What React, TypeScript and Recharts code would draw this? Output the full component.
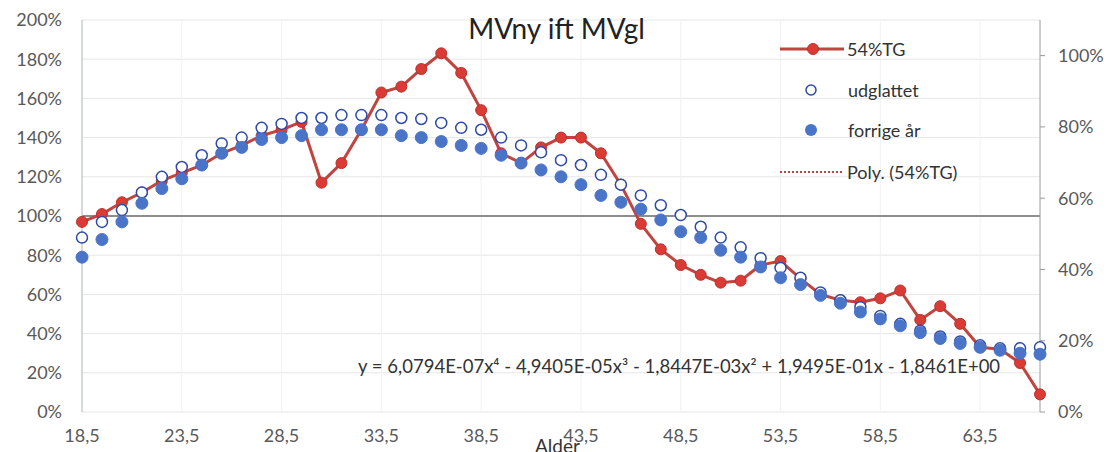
import { ComposedChart, Line, XAxis, YAxis, CartesianGrid, ReferenceLine } from 'recharts'

document.body.style.margin = '0'

const ages = [
  '18,5', '19,5', '20,5', '21,5', '22,5', '23,5', '24,5', '25,5', '26,5', '27,5',
  '28,5', '29,5', '30,5', '31,5', '32,5', '33,5', '34,5', '35,5', '36,5', '37,5',
  '38,5', '39,5', '40,5', '41,5', '42,5', '43,5', '44,5', '45,5', '46,5', '47,5',
  '48,5', '49,5', '50,5', '51,5', '52,5', '53,5', '54,5', '55,5', '56,5', '57,5',
  '58,5', '59,5', '60,5', '61,5', '62,5', '63,5', '64,5', '65,5', '66,5',
]

// 54%TG
const tg54 = [
  97, 101, 107, 112, 118, 122, 126, 132, 136, 141,
  144, 148, 117, 127, 144, 163, 166, 175, 183, 173,
  154, 132, 127, 135, 140, 140, 132, 116, 96, 83,
  75, 70, 66, 67, 75, 77, 68, 60, 57, 56,
  58, 62, 47, 54, 45, 33, 32, 25, 9,
]

const udglattet = [
  89, 97, 103, 112, 120, 125, 131, 137, 140, 145,
  147, 150, 150, 151.5, 151.5, 151.5, 150, 149.5, 147.5, 145,
  144, 140, 136, 132.5, 128.5, 126, 121, 116, 110.5, 105.5,
  100.5, 94.5, 89, 84, 78.5, 73.5, 68.5, 61, 57, 53.5,
  49, 45, 41.5, 38.5, 36, 34, 32.5, 32.5, 33,
]

const forrigeAar = [
  79, 88, 97, 106.5, 114, 119, 126, 132, 135, 139,
  140, 141, 144, 144, 144, 144, 141, 140, 138, 136,
  134.5, 131, 127, 123.5, 120, 116, 110.5, 107, 103.5, 98,
  92, 89, 82.5, 79, 74, 68.5, 65, 59.5, 55.5, 51,
  47.5, 44, 40.5, 37.5, 35, 33, 31.5, 30, 29.5,
]

const leftTicks = [0, 20, 40, 60, 80, 100, 120, 140, 160, 180, 200]
const rightTicks = [0, 20, 40, 60, 80, 100]
const gridAges = ['23,5', '28,5', '33,5', '38,5', '43,5', '48,5', '53,5', '58,5', '63,5']

const title = 'MVny ift MVgl'
const xTitle = 'Alder'
const equation = 'y = 6,0794E-07x⁴ - 4,9405E-05x³ - 1,8447E-03x² + 1,9495E-01x - 1,8461E+00'

const data = ages.map((age, i) => ({
  age,
  tg54: tg54[i],
  udglattet: udglattet[i],
  forrige: forrigeAar[i],
}))

const FONT = 'Lato, "Open Sans", sans-serif'
const TICK = { fill: '#595959', fontSize: 18, fontFamily: FONT }
const RED = '#c0443f'
const RED_DOT = '#dc3a35'
const BLUE = '#4a74c8'
const NAVY = '#2c4aa8'

const pct = (v: number) => `${v}%`

export default function App() {
  return (
    <div style={{ position: 'relative', width: 1109, height: 452, background: '#fff', fontFamily: FONT }}>
      <ComposedChart width={1109} height={452} data={data} margin={{ top: 20, right: 0, bottom: 0, left: 0 }}>
        <CartesianGrid yAxisId="left" vertical={false} stroke="#e6e6e6" />
        {gridAges.map((a) => (
          <ReferenceLine key={a} x={a} yAxisId="left" stroke="#f1f1f1" />
        ))}
        <XAxis
          dataKey="age"
          scale="point"
          interval={4}
          height={40}
          tick={TICK}
          tickLine={false}
          axisLine={false}
          tickMargin={11}
        />
        <YAxis
          yAxisId="left"
          domain={[0, 200]}
          ticks={leftTicks}
          tickFormatter={pct}
          width={82}
          tick={TICK}
          tickLine={false}
          axisLine={{ stroke: '#a9b4c6' }}
          tickMargin={14}
        />
        <YAxis
          yAxisId="right"
          orientation="right"
          domain={[0, 110]}
          allowDataOverflow
          ticks={rightTicks}
          tickFormatter={pct}
          width={69}
          tick={TICK}
          tickSize={5}
          tickLine={{ stroke: '#9a9a9a' }}
          axisLine={{ stroke: '#9a9a9a' }}
          tickMargin={13}
        />
        <ReferenceLine y={100} yAxisId="left" stroke="#6b6b6b" strokeWidth={1.5} />
        {/* keeps the secondary axis alive, draws nothing */}
        <Line yAxisId="right" dataKey="tg54" stroke="none" dot={false} activeDot={false} isAnimationActive={false} />
        <Line
          yAxisId="left"
          dataKey="tg54"
          stroke={RED}
          strokeWidth={3}
          dot={{ r: 5.5, fill: RED_DOT, stroke: '#b8322d', strokeWidth: 1 }}
          isAnimationActive={false}
        />
        <Line
          yAxisId="left"
          dataKey="udglattet"
          stroke="none"
          dot={{ r: 5.5, fill: '#fff', stroke: NAVY, strokeWidth: 1.5 }}
          isAnimationActive={false}
        />
        <Line
          yAxisId="left"
          dataKey="forrige"
          stroke="none"
          dot={{ r: 6, fill: BLUE, stroke: BLUE, strokeWidth: 1 }}
          isAnimationActive={false}
        />
      </ComposedChart>

      <div style={{ position: 'absolute', left: 0, width: 1109, top: 11, textAlign: 'center', fontSize: 28, color: '#222', paddingLeft: 2 }}>
        {title}
      </div>

      <div style={{ position: 'absolute', left: 780, top: 37, fontSize: 18, color: '#333', lineHeight: '24px', whiteSpace: 'nowrap' }}>
        <div style={{ position: 'relative', height: 24 }}>
          <svg width={66} height={24} style={{ position: 'absolute', left: 0, top: 0 }}>
            <line x1={0} y1={12} x2={64} y2={12} stroke={RED} strokeWidth={3} />
            <circle cx={33} cy={12} r={5.5} fill={RED_DOT} stroke="#b8322d" />
          </svg>
          <span style={{ position: 'absolute', left: 67, top: 0 }}>54%TG</span>
        </div>
        <div style={{ position: 'relative', height: 24, marginTop: 17 }}>
          <svg width={66} height={24} style={{ position: 'absolute', left: 0, top: 0 }}>
            <circle cx={31} cy={12} r={5} fill="#fff" stroke={NAVY} strokeWidth={1.5} />
          </svg>
          <span style={{ position: 'absolute', left: 68, top: 0 }}>udglattet</span>
        </div>
        <div style={{ position: 'relative', height: 24, marginTop: 16 }}>
          <svg width={66} height={24} style={{ position: 'absolute', left: 0, top: 0 }}>
            <circle cx={31} cy={12} r={6} fill={BLUE} />
          </svg>
          <span style={{ position: 'absolute', left: 68, top: 0 }}>forrige år</span>
        </div>
        <div style={{ position: 'relative', height: 24, marginTop: 18 }}>
          <svg width={66} height={24} style={{ position: 'absolute', left: 0, top: 0 }}>
            <line x1={0} y1={12} x2={62} y2={12} stroke={RED} strokeWidth={2} strokeDasharray="2 2" />
          </svg>
          <span style={{ position: 'absolute', left: 67, top: 0 }}>Poly. (54%TG)</span>
        </div>
      </div>

      <div style={{ position: 'absolute', left: 358, top: 355, fontSize: 18.5, color: '#333', whiteSpace: 'nowrap' }}>
        {equation}
      </div>

      <div style={{ position: 'absolute', left: 535, top: 434, fontSize: 19, color: '#333' }}>
        {xTitle}
      </div>
    </div>
  )
}
